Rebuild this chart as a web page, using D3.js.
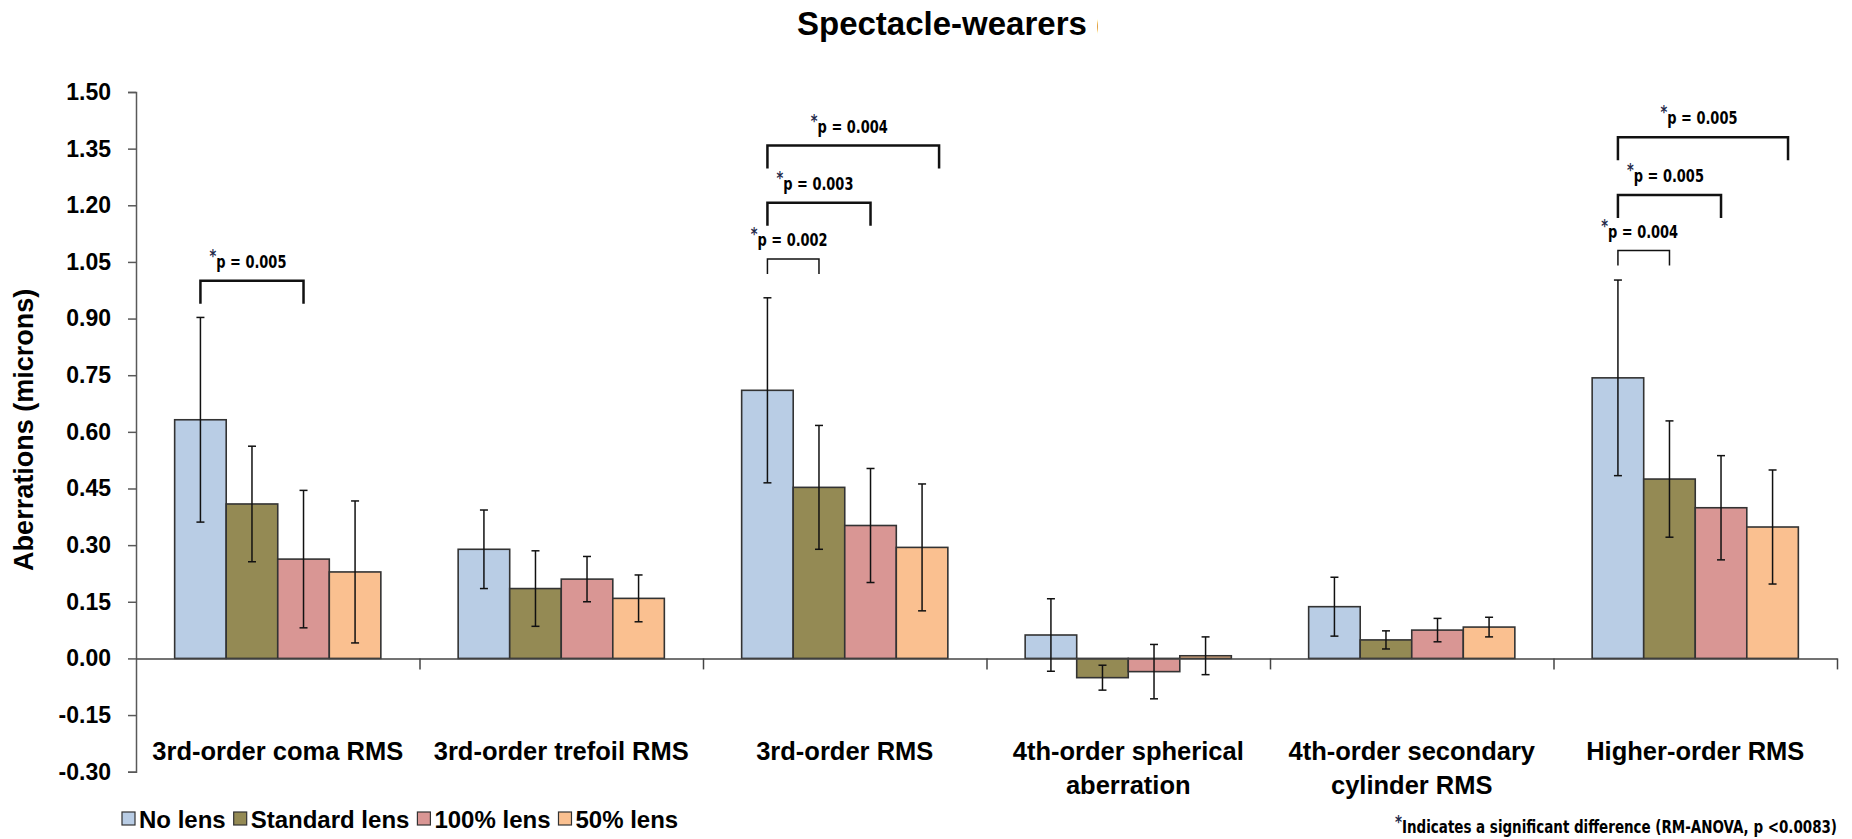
<!DOCTYPE html>
<html>
<head>
<meta charset="utf-8">
<script src="https://cdn.jsdelivr.net/npm/d3@7"></script>
<style>
  body { margin: 0; background: #fff; }
  svg { display: block; font-family: "Liberation Sans", Arial, sans-serif; }
  .narrow { font-family: "Liberation Sans Narrow", "Arial Narrow", "DejaVu Sans Condensed", sans-serif; }
</style>
</head>
<body>
<svg id="chart" width="1852" height="839"></svg>
<script>
// chart data
var categories = [["3rd-order coma RMS"], ["3rd-order trefoil RMS"], ["3rd-order RMS"],
                  ["4th-order spherical", "aberration"], ["4th-order secondary", "cylinder RMS"], ["Higher-order RMS"]]
var seriesNames = ["No lens", "Standard lens", "100% lens", "50% lens"]
var colors = ["#B9CDE5", "#948A54", "#D99694", "#FAC090"]

var noLens       = [0.632, 0.289, 0.710, 0.062, 0.137, 0.743]
var standardLens = [0.409, 0.185, 0.453, -0.051, 0.049, 0.475]
var lens100      = [0.263, 0.210, 0.352, -0.035, 0.075, 0.399]
var lens50       = [0.229, 0.159, 0.294, 0.007, 0.083, 0.348]

var sdNoLens       = [0.271, 0.104, 0.245, 0.096, 0.078, 0.259]
var sdStandardLens = [0.153, 0.100, 0.164, 0.033, 0.024, 0.154]
var sdLens100      = [0.182, 0.060, 0.151, 0.072, 0.031, 0.138]
var sdLens50       = [0.188, 0.062, 0.168, 0.050, 0.026, 0.151]

var yTicks = [-0.30, -0.15, 0.00, 0.15, 0.30, 0.45, 0.60, 0.75, 0.90, 1.05, 1.20, 1.35, 1.50]

// significance brackets: category, from series, to series, height (microns), label
var brackets = [
  {cat: 0, from: 0, to: 2, y: 1.000, label: "p = 0.005"},
  {cat: 2, from: 0, to: 1, y: 1.058, label: "p = 0.002"},
  {cat: 2, from: 0, to: 2, y: 1.207, label: "p = 0.003"},
  {cat: 2, from: 0, to: 3.33, y: 1.358, label: "p = 0.004"},
  {cat: 5, from: 0, to: 1, y: 1.080, label: "p = 0.004"},
  {cat: 5, from: 0, to: 2, y: 1.227, label: "p = 0.005"},
  {cat: 5, from: 0, to: 3.3, y: 1.380, label: "p = 0.005"}
]

var means = [noLens, standardLens, lens100, lens50]
var sds = [sdNoLens, sdStandardLens, sdLens100, sdLens50]

var margin = {left: 136, right: 1837, top: 92, bottom: 771.7}

var svg = d3.select("#chart")

var x = d3.scaleBand().domain(d3.range(categories.length)).range([margin.left, margin.right]).padding(0)
var xs = d3.scaleBand().domain(d3.range(seriesNames.length)).range([0, x.bandwidth()])
  .paddingInner(0).paddingOuter(0.75)
var y = d3.scaleLinear().domain([-0.30, 1.50]).range([margin.bottom, margin.top])

function seriesX(cat, s) {
  // center of a bar, fractional series allowed
  return x(cat) + xs(0) + (s + 0.5) * xs.bandwidth()
}

// title, cut off on the right as in the original
svg.append("clipPath").attr("id", "titleClip")
  .append("rect").attr("x", 0).attr("y", 0).attr("width", 1098).attr("height", 60)
svg.append("text")
  .attr("x", 797).attr("y", 35)
  .attr("clip-path", "url(#titleClip)")
  .style("font-size", "33px").style("font-weight", "bold")
  .text("Spectacle-wearers (")

// y axis
var yAxis = svg.append("g")
  .attr("transform", "translate(" + margin.left + ",0)")
  .call(d3.axisLeft(y).tickValues(yTicks).tickSize(8).tickPadding(17)
    .tickFormat(function(d) { return d.toFixed(2) }))
yAxis.select(".domain").attr("stroke", "#595959").attr("stroke-width", 1.5)
yAxis.selectAll(".tick line").attr("stroke", "#595959").attr("stroke-width", 1.5)
yAxis.selectAll(".tick text")
  .style("font-size", "23px").style("font-weight", "bold")
  .style("font-family", "'Liberation Sans', Arial, sans-serif").attr("fill", "#000")

// y axis title
svg.append("text")
  .attr("transform", "translate(33," + ((margin.top + margin.bottom) / 2 - 2) + ") rotate(-90)")
  .attr("text-anchor", "middle")
  .style("font-size", "27px").style("font-weight", "bold")
  .text("Aberrations (microns)")

// bars
var barData = []
means.forEach(function(arr, s) {
  arr.forEach(function(v, c) {
    barData.push({cat: c, s: s, v: v, sd: sds[s][c]})
  })
})

svg.append("g").selectAll("rect")
  .data(barData)
  .enter()
  .append("rect")
  .attr("x", function(d) { return x(d.cat) + xs(d.s) })
  .attr("y", function(d) { return y(Math.max(0, d.v)) })
  .attr("width", xs.bandwidth())
  .attr("height", function(d) { return Math.abs(y(d.v) - y(0)) })
  .attr("fill", function(d) { return colors[d.s] })
  .attr("stroke", "#333")
  .attr("stroke-width", 1.6)

// x axis on zero line with category dividers
var xb = d3.scaleLinear().domain([0, categories.length]).range([margin.left, margin.right])
var xAxis = svg.append("g")
  .attr("transform", "translate(0," + y(0) + ")")
  .call(d3.axisBottom(xb).tickValues(d3.range(1, categories.length + 1)).tickSize(11).tickSizeOuter(0).tickFormat(""))
xAxis.select(".domain").attr("stroke", "#444").attr("stroke-width", 1.5)
xAxis.selectAll(".tick line").attr("stroke", "#444").attr("stroke-width", 1.5)

// error bars
var eb = svg.append("g").attr("stroke", "#111").attr("stroke-width", 1.5)
barData.forEach(function(d) {
  var cx = seriesX(d.cat, d.s)
  var y1 = y(d.v + d.sd), y2 = y(d.v - d.sd)
  eb.append("line").attr("x1", cx).attr("x2", cx).attr("y1", y1).attr("y2", y2)
  eb.append("line").attr("x1", cx - 4).attr("x2", cx + 4).attr("y1", y1).attr("y2", y1)
  eb.append("line").attr("x1", cx - 4).attr("x2", cx + 4).attr("y1", y2).attr("y2", y2)
})

// significance brackets
brackets.forEach(function(b) {
  var x1 = seriesX(b.cat, b.from), x2 = seriesX(b.cat, b.to)
  var by = y(b.y)
  var small = (b.to - b.from) <= 1
  var leg = small ? 15 : 23
  svg.append("path")
    .attr("d", "M" + x1 + "," + (by + leg) + "V" + by + "H" + x2 + "V" + (by + leg))
    .attr("fill", "none").attr("stroke", "#111").attr("stroke-width", small ? 1.5 : 2.5)
  // condensed label, squeezed horizontally
  var t = svg.append("text")
    .attr("class", "narrow")
    .attr("transform", "translate(" + ((x1 + x2) / 2 - 4) + "," + (by - 13) + ") scale(0.8,1)")
    .attr("text-anchor", "middle")
    .style("font-size", "18px").style("font-weight", "bold")
  t.append("tspan").attr("dy", -6).attr("fill", "#1F2A4A").style("font-size", "18px").text("*")
  t.append("tspan").attr("dy", 6).text(b.label)
})

// category labels
categories.forEach(function(lines, i) {
  var t = svg.append("text")
    .attr("x", x(i) + x.bandwidth() / 2).attr("y", 760)
    .attr("text-anchor", "middle")
    .style("font-size", "25.5px").style("font-weight", "bold")
  lines.forEach(function(line, j) {
    t.append("tspan").attr("x", x(i) + x.bandwidth() / 2).attr("dy", j === 0 ? 0 : 34).text(line)
  })
})

// legend
var lx = 122
var legend = svg.append("g")
seriesNames.forEach(function(name, i) {
  legend.append("rect")
    .attr("x", lx).attr("y", 812).attr("width", 13).attr("height", 13)
    .attr("fill", colors[i]).attr("stroke", "#333").attr("stroke-width", 1.2)
  var t = legend.append("text")
    .attr("x", lx + 17).attr("y", 828)
    .style("font-size", "24px").style("font-weight", "bold")
    .text(name)
  lx += 17 + t.node().getComputedTextLength() + 8
})

// footnote
var foot = svg.append("text")
  .attr("class", "narrow")
  .attr("transform", "translate(" + margin.right + ",833) scale(0.88,1)")
  .attr("text-anchor", "end")
  .style("font-size", "17px").style("font-weight", "bold")
foot.append("tspan").attr("dy", -5).attr("fill", "#1F2A4A").text("*")
foot.append("tspan").attr("dy", 5).text("Indicates a significant difference (RM-ANOVA, p <0.0083)")
</script>
</body>
</html>
